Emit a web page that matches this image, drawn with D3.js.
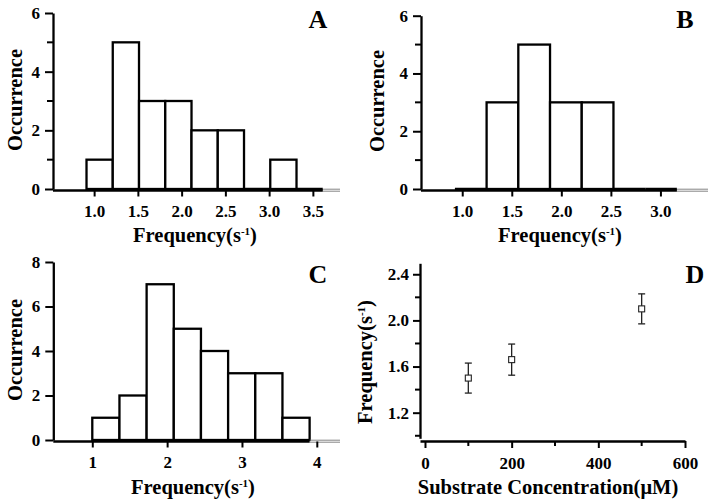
<!DOCTYPE html>
<html><head><meta charset="utf-8">
<script src="https://cdn.jsdelivr.net/npm/d3@7"></script>
<style>
body{margin:0;background:#fff;}
svg{display:block;}
text{font-family:"Liberation Serif","Times New Roman",serif;font-weight:bold;fill:#000;}
</style></head>
<body><svg id="c" width="714" height="504"></svg>
<script>
// ---- Data ----
const binsA = [0.913,1.213,1.513,1.813,2.113,2.413,2.713,3.013,3.313,3.613];
const countsA = [1,5,3,3,2,2,0,1,0];
const binsB = [0.926,1.246,1.566,1.886,2.206,2.526,2.846,3.166];
const countsB = [0,3,5,3,3,0,0];
const binsC = [1.0,1.363,1.726,2.089,2.452,2.815,3.178,3.541,3.904];
const countsC = [1,2,7,5,4,3,3,1];
const concD = [100,200,500];
const freqD = [1.50,1.66,2.10];
const errD = [0.13,0.135,0.13];
const ticksA_x = [1.0,1.5,2.0,2.5,3.0,3.5];
const ticksB_x = [1.0,1.5,2.0,2.5,3.0];
const ticksC_x = [1,2,3,4];
const ticksAB_y = [0,2,4,6];
const ticksC_y = [0,2,4,6,8];
const ticksD_x = [0,200,400,600];
const ticksD_y = [1.2,1.6,2.0,2.4];

const svg = d3.select("#c");
const TICKF = 17, TITLEF = 20.5, LABF = 26;

function histPanel(o){
  const g = svg.append("g");
  const x = d3.scaleLinear().domain(o.xd).range(o.xr);
  const y = d3.scaleLinear().domain(o.yd).range(o.yr);
  const data = o.counts.map((c,i)=>({x0:o.bins[i],x1:o.bins[i+1],c}));
  g.selectAll("rect.bar").data(data).join("rect")
    .attr("x",d=>x(d.x0)).attr("width",d=>x(d.x1)-x(d.x0))
    .attr("y",d=>y(d.c)).attr("height",d=>y(0)-y(d.c))
    .attr("fill","#fff").attr("stroke","#000").attr("stroke-width",2.3);
  g.selectAll("line.z").data(data.filter(d=>d.c===0)).join("line")
    .attr("x1",d=>x(d.x0)).attr("x2",d=>x(d.x1))
    .attr("y1",y(0)).attr("y2",y(0)).attr("stroke","#000").attr("stroke-width",2.5);
  const lastEdge = o.bins[o.bins.length-1];
  [-0.8,1.2].forEach(dy=>{
    g.append("line").attr("x1",x(lastEdge)).attr("x2",x(o.xd[1]))
      .attr("y1",y(0)+1+dy).attr("y2",y(0)+1+dy).attr("stroke","#777").attr("stroke-width",0.9);
  });
  const xa = g.append("g").attr("transform",`translate(0,${y(0)+1.5})`)
    .call(d3.axisBottom(x).tickValues(o.xticks).tickSize(6).tickSizeOuter(0).tickPadding(8)
      .tickFormat(o.xfmt));
  xa.select(".domain").attr("stroke-width",2.3).attr("d",`M${o.xr[0]},0H${x(lastEdge)}`);
  xa.selectAll(".tick line").attr("stroke-width",2);
  xa.selectAll("text").attr("font-size",TICKF).attr("font-family","Liberation Serif").attr("font-weight","bold").attr("fill","#000");
  const ya = g.append("g").attr("transform",`translate(${o.xr[0]},0)`)
    .call(d3.axisLeft(y).tickValues(o.yticks).tickSize(8).tickSizeOuter(0).tickPadding(5).tickFormat(d3.format("d")));
  ya.select(".domain").attr("stroke-width",2.3);
  ya.selectAll(".tick line").attr("stroke-width",2);
  ya.selectAll("text").attr("font-size",TICKF).attr("font-family","Liberation Serif").attr("font-weight","bold").attr("fill","#000");
  if(o.minor){
    ya.selectAll("line.minor").data(o.minor).join("line")
      .attr("x1",-6).attr("x2",0).attr("y1",d=>y(d)).attr("y2",d=>y(d))
      .attr("stroke","#000").attr("stroke-width",2);
  }
  const t = g.append("text").attr("x",o.xtx).attr("y",o.xty).attr("text-anchor","middle").attr("font-size",TITLEF);
  t.append("tspan").text("Frequency(s");
  t.append("tspan").text("-1").attr("font-size",11).attr("dy",-7);
  t.append("tspan").text(")").attr("dy",7);
  g.append("text").attr("transform",`translate(${o.ytx},${o.yty}) rotate(-90)`)
    .attr("text-anchor","middle").attr("font-size",TITLEF).text("Occurrence");
  g.append("text").attr("x",o.lx).attr("y",o.ly).attr("text-anchor","middle").attr("font-size",LABF).text(o.label);
}

histPanel({bins:binsA,counts:countsA,xd:[0.53,3.81],xr:[53,340],yd:[0,6],yr:[189,13],
  xticks:ticksA_x,xfmt:d3.format(".1f"),yticks:ticksAB_y,minor:[1,3,5],
  xtx:195,xty:242,ytx:22,yty:100,label:"A",lx:318,ly:28});
histPanel({bins:binsB,counts:countsB,xd:[0.584,3.48],xr:[421,708],yd:[0,6],yr:[189,15.7],
  xticks:ticksB_x,xfmt:d3.format(".1f"),yticks:ticksAB_y,minor:[1,3,5],
  xtx:560,xty:242,ytx:384,yty:101,label:"B",lx:685,ly:28});
histPanel({bins:binsC,counts:countsC,xd:[0.479,4.31],xr:[53.3,340],yd:[0,8],yr:[440,262],
  xticks:ticksC_x,xfmt:d3.format("d"),yticks:ticksC_y,minor:null,
  xtx:193,xty:494,ytx:22,yty:350,label:"C",lx:318,ly:283});

// Panel D
(function(){
  const g = svg.append("g");
  const x = d3.scaleLinear().domain([-11.5,600]).range([420,685]);
  const y = d3.scaleLinear().domain([0.978,2.495]).range([438.3,263.3]);
  const xa = g.append("g").attr("transform","translate(0,441)")
    .call(d3.axisBottom(x).tickValues(ticksD_x).tickSize(7).tickSizeOuter(0).tickPadding(9).tickFormat(d3.format("d")));
  xa.select(".domain").attr("stroke-width",2.3);
  xa.selectAll(".tick line").attr("stroke-width",2);
  xa.selectAll("text").attr("font-size",TICKF).attr("font-family","Liberation Serif").attr("font-weight","bold").attr("fill","#000");
  xa.selectAll("line.minor").data([100,300,500]).join("line")
    .attr("x1",d=>x(d)).attr("x2",d=>x(d)).attr("y1",0).attr("y2",5).attr("stroke","#000").attr("stroke-width",2);
  const ya = g.append("g").attr("transform","translate(420,0)")
    .call(d3.axisLeft(y).tickValues(ticksD_y).tickSize(7).tickSizeOuter(0).tickPadding(4).tickFormat(d3.format(".1f")));
  ya.select(".domain").attr("stroke-width",2.3);
  ya.selectAll(".tick line").attr("stroke-width",2);
  ya.selectAll("text").attr("font-size",TICKF).attr("font-family","Liberation Serif").attr("font-weight","bold").attr("fill","#000");
  ya.selectAll("line.minor").data([1.0,1.4,1.8,2.2]).join("line")
    .attr("x1",-5).attr("x2",0).attr("y1",d=>y(d)).attr("y2",d=>y(d)).attr("stroke","#000").attr("stroke-width",2);
  const pts = concD.map((c,i)=>({c,f:freqD[i],e:errD[i]}));
  const pg = g.selectAll("g.pt").data(pts).join("g");
  pg.append("line").attr("x1",d=>x(d.c)).attr("x2",d=>x(d.c)).attr("y1",d=>y(d.f+d.e)).attr("y2",d=>y(d.f-d.e)).attr("stroke","#222").attr("stroke-width",1.3);
  [1,-1].forEach(s=>{
    pg.append("line").attr("x1",d=>x(d.c)-3.5).attr("x2",d=>x(d.c)+3.5)
      .attr("y1",d=>y(d.f+s*d.e)).attr("y2",d=>y(d.f+s*d.e)).attr("stroke","#222").attr("stroke-width",1.3);
  });
  pg.append("rect").attr("x",d=>x(d.c)-3).attr("y",d=>y(d.f)-3).attr("width",6).attr("height",6)
    .attr("fill","#fff").attr("stroke","#222").attr("stroke-width",1.1);
  const t = g.append("text").attr("transform","translate(372,362) rotate(-90)").attr("text-anchor","middle").attr("font-size",TITLEF);
  t.append("tspan").text("Frequency(s");
  t.append("tspan").text("-1").attr("font-size",11).attr("dy",-7);
  t.append("tspan").text(")").attr("dy",7);
  g.append("text").attr("x",548).attr("y",494).attr("text-anchor","middle").attr("font-size",TITLEF).text("Substrate Concentration(\u03bcM)");
  g.append("text").attr("x",695).attr("y",283).attr("text-anchor","middle").attr("font-size",LABF).text("D");
})();
</script></body></html>
